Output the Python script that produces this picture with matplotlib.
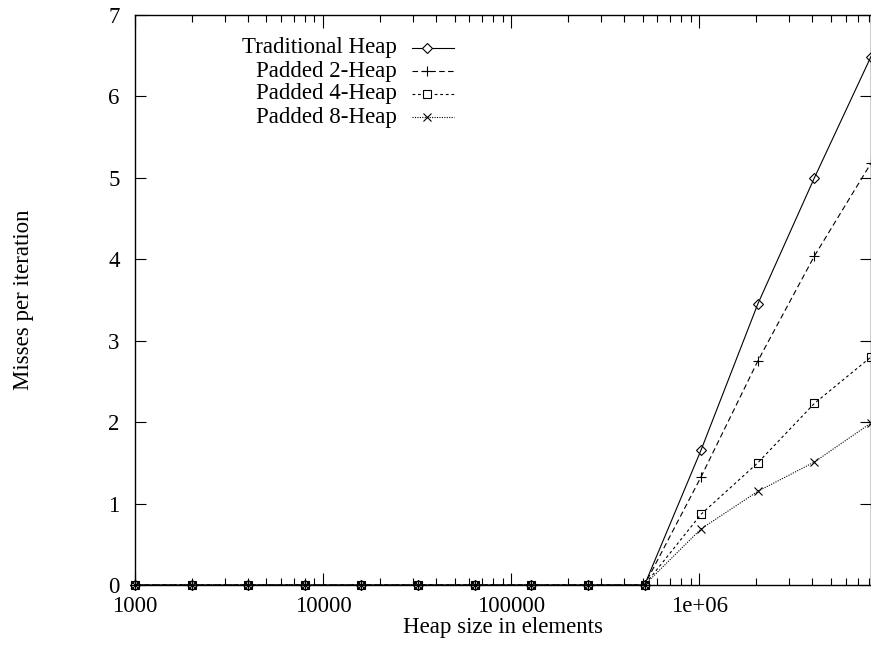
import matplotlib
matplotlib.use("Agg")
import matplotlib.pyplot as plt
from matplotlib.lines import Line2D
from matplotlib.ticker import FixedLocator, FixedFormatter, LogLocator, NullFormatter

plt.rcParams['font.family'] = ['Liberation Serif', 'DejaVu Serif']

# heap sizes: 1000 * 2^k
sizes = [1000, 2000, 4000, 8000, 16000, 32000, 64000, 128000, 256000,
         512000, 1024000, 2048000, 4096000, 8192000]

traditional = [0, 0, 0, 0, 0, 0, 0, 0, 0, 0, 1.66, 3.45, 5.00, 6.49]
padded2 = [0, 0, 0, 0, 0, 0, 0, 0, 0, 0, 1.33, 2.75, 4.04, 5.18]
padded4 = [0, 0, 0, 0, 0, 0, 0, 0, 0, 0, 0.87, 1.50, 2.23, 2.80]
padded8 = [0, 0, 0, 0, 0, 0, 0, 0, 0, 0, 0.69, 1.15, 1.51, 1.99]

labels = ["Traditional Heap", "Padded 2-Heap", "Padded 4-Heap", "Padded 8-Heap"]
xticks = [1000, 10000, 100000, 1000000]
xticklabels = ["1000", "10000", "100000", "1e+06"]

styles = [
    dict(linestyle='-', marker='D', markersize=5),
    dict(linestyle=(0, (5, 3)), marker='+', markersize=7),
    dict(linestyle=(0, (2.5, 2.5)), marker='s', markersize=6),
    dict(linestyle=(0, (1, 1.2)), marker='x', markersize=6),
]
FS = 16.5

fig = plt.figure(figsize=(8.71, 6.47), dpi=100)
ax = fig.add_axes([135 / 871, 1 - 585 / 647, 1 - 135 / 871, (585 - 15) / 647])

for ys, st in zip([traditional, padded2, padded4, padded8], styles):
    ax.plot(sizes, ys, color='black', linewidth=0.8, markerfacecolor='none',
            markeredgewidth=0.8, clip_on=False, **st)

ax.set_xscale('log')
ax.set_xlim(1000, 8192000)
ax.set_ylim(0, 7)

ax.xaxis.set_major_locator(FixedLocator(xticks))
ax.xaxis.set_major_formatter(FixedFormatter(xticklabels))
ax.xaxis.set_minor_locator(LogLocator(base=10, subs=range(2, 10)))
ax.xaxis.set_minor_formatter(NullFormatter())
ax.set_yticks(range(0, 8))

ax.tick_params(which='both', direction='in', top=True, right=True,
               labelsize=FS, colors='black')
ax.tick_params(axis='x', which='major', length=9, width=0.8, pad=8)
ax.tick_params(axis='x', which='minor', length=5, width=0.8)
ax.tick_params(axis='y', which='major', length=8, width=0.8, pad=11)
for s in ax.spines.values():
    s.set_linewidth(1.0)

ax.set_xlabel("Heap size in elements", fontsize=FS, labelpad=0)
fig.text(23 / 871, 1 - 300 / 647, "Misses per iteration", rotation=90,
         ha='center', va='center', fontsize=FS)

# key in the upper left: text right-aligned, sample on the right
for i, (lab, st) in enumerate(zip(labels, styles)):
    yk = 1 - (48 + 23 * i) / 647
    fig.text(397 / 871, yk, lab, ha='right', va='center', fontsize=FS)
    fig.add_artist(Line2D([412 / 871, 454 / 871], [yk, yk], color='black',
                          linewidth=0.8, linestyle=st['linestyle']))
    fig.add_artist(Line2D([427 / 871], [yk], color='black', linestyle='none',
                          marker=st['marker'], markersize=st['markersize'],
                          markerfacecolor='white', markeredgewidth=0.8))

fig.savefig("out.png", dpi=100)
